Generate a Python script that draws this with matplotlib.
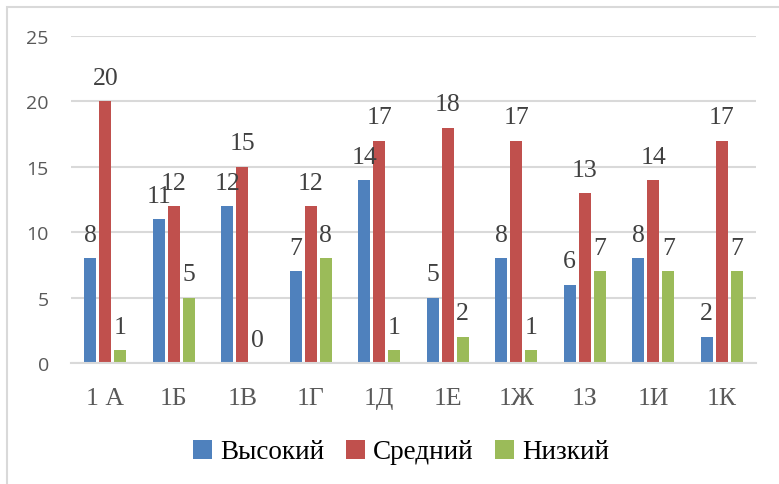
import numpy as np
import matplotlib
matplotlib.use('Agg')
from matplotlib import pyplot as plt
from matplotlib.patches import Rectangle

classes = ['1 А', '1Б', '1В', '1Г', '1Д', '1Е', '1Ж', '1З', '1И', '1К']
high = [8, 11, 12, 7, 14, 5, 8, 6, 8, 2]
middle = [20, 12, 15, 12, 17, 18, 17, 13, 14, 17]
low = [1, 5, 0, 8, 1, 2, 1, 7, 7, 7]
series_names = ['Высокий', 'Средний', 'Низкий']

colors = ['#4F81BD', '#C0504D', '#9BBB59']
serif = 'Liberation Serif'

fig = plt.figure(figsize=(7.79, 4.85), dpi=100)
ax = fig.add_axes([71/779, 1-364/485, (756-71)/779, (364-37)/485])

x = np.arange(len(classes))
width = 0.168
step = 0.219
for k, vals in enumerate([high, middle, low]):
    pos = x + (k-1)*step
    ax.bar(pos, vals, width, color=colors[k], label=series_names[k], zorder=3)
    for xi, v in zip(pos, vals):
        ax.annotate(str(v), (xi, v), xytext=(0, 12.5), textcoords='offset points',
                    ha='center', va='baseline', fontsize=18.5, family=serif,
                    color='#404040', zorder=4)

ax.set_xlim(-0.5, len(classes)-0.5)
ax.set_ylim(0, 25)
ax.set_yticks([0, 5, 10, 15, 20, 25])
ax.set_xticks(x)
ax.set_xticklabels(classes, family=serif, fontsize=18.5, color='#595959')
for t in ax.get_yticklabels():
    t.set_family('Open Sans')
    t.set_fontsize(14)
    t.set_color('#595959')
ax.tick_params(axis='both', length=0)
ax.tick_params(axis='y', pad=16)
ax.tick_params(axis='x', pad=17)
ax.grid(axis='y', color='#D9D9D9', linewidth=1.5, zorder=0)
for s in ['top', 'right', 'left']:
    ax.spines[s].set_visible(False)
ax.spines['bottom'].set_color('#D9D9D9')
ax.spines['bottom'].set_linewidth(1.5)
ax.spines['bottom'].set_zorder(5)

fig.legend(loc='center', bbox_to_anchor=(0.515, 1-453/485), ncol=3, frameon=False,
           prop={'family': serif, 'size': 19.5}, handlelength=0.7, handleheight=0.7,
           handletextpad=0.3, columnspacing=0.8)

# chart frame, right and bottom edges fall outside the image
border = Rectangle((7/779, -0.2), 1.2, 0.2 + 1 - 8/485, transform=fig.transFigure,
                   fill=False, edgecolor='#D9D9D9', linewidth=1.5)
fig.add_artist(border)

fig.savefig('out.png', dpi=100, facecolor='white')
